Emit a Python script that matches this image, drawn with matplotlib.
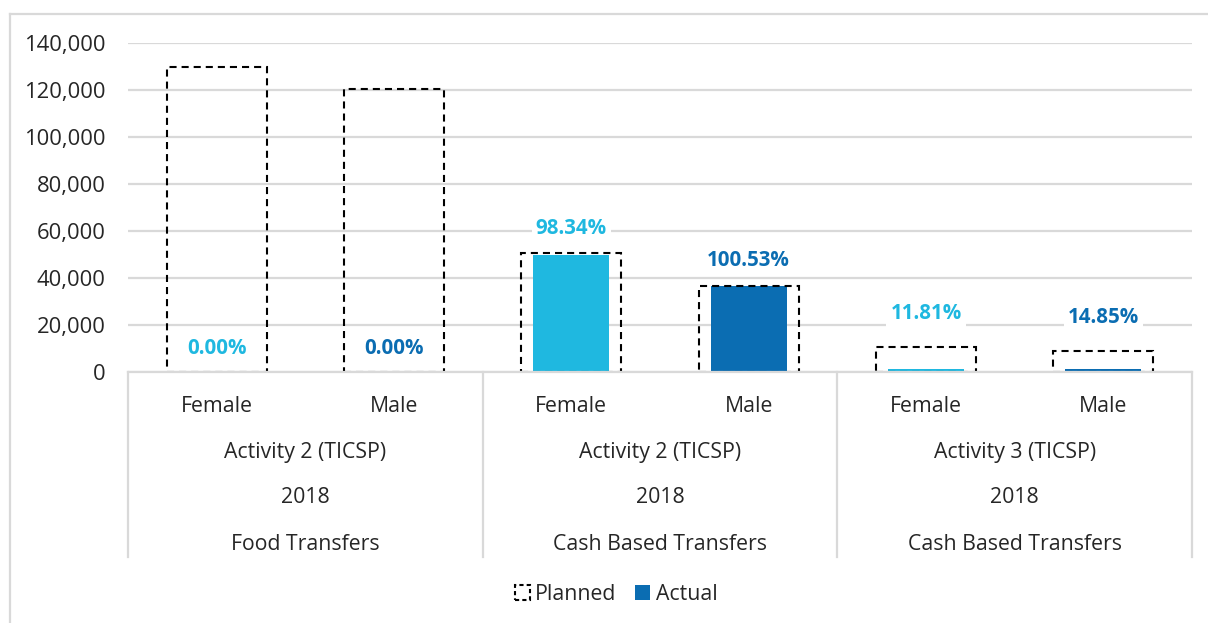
import matplotlib.pyplot as plt
from matplotlib.patches import Patch
from matplotlib.lines import Line2D
from matplotlib.transforms import blended_transform_factory

plt.rcParams['font.family'] = ['Open Sans', 'DejaVu Sans']

sexes = ["Female", "Male", "Female", "Male", "Female", "Male"]
activities = ["Activity 2 (TICSP)", "Activity 2 (TICSP)", "Activity 3 (TICSP)"]
years = ["2018", "2018", "2018"]
transfers = ["Food Transfers", "Cash Based Transfers", "Cash Based Transfers"]
planned = [129800, 120500, 50600, 36600, 10500, 8950]
actual = [0, 0, 49800, 36800, 1240, 1330]
pct = [0.00, 0.00, 98.34, 100.53, 11.81, 14.85]

light = "#1fb8e0"
dark = "#0b6db2"
grid = "#d9d9d9"
txt = "#262626"
colors = [light, dark] * 3


def main():
    fig = plt.figure(figsize=(12.08, 6.23), dpi=100)
    ax = fig.add_axes([128 / 1208, 1 - 372 / 623, (1192 - 128) / 1208, (372 - 43) / 623])

    x = list(range(len(sexes)))
    ax.bar(x, actual, width=0.43, color=colors, zorder=2)
    ax.bar(x, planned, width=0.565, facecolor="none", edgecolor="black",
           linewidth=1.5, linestyle=(0, (3.4, 2.4)), zorder=3)

    for i in x:
        # label sits inside the planned box when there is room, else above it
        if planned[i] - actual[i] > 30000:
            anchor, off = actual[i], 17
        else:
            anchor = max(planned[i], actual[i])
            off = 18 if actual[i] >= planned[i] * 0.9 else 24
        ax.annotate(f"{pct[i]:.2f}%", (i, anchor), xytext=(0, off), textcoords="offset points",
                    ha="center", va="center", fontsize=14.8, fontweight="bold", color=colors[i],
                    bbox=dict(facecolor="white", edgecolor="none", pad=3), zorder=4)

    ax.set_xlim(-0.5, 5.5)
    ax.set_ylim(0, 140000)
    ax.set_yticks(range(0, 140001, 20000))
    ax.set_yticklabels([f"{v:,}" for v in range(0, 140001, 20000)], fontsize=15.8, color=txt)
    ax.tick_params(axis="y", length=0, pad=16)
    ax.set_xticks([])
    ax.grid(axis="y", color=grid, linewidth=1.6, zorder=0)
    ax.set_axisbelow(True)
    for s in ["top", "right", "left"]:
        ax.spines[s].set_visible(False)
    ax.spines["bottom"].set_color(grid)
    ax.spines["bottom"].set_linewidth(1.6)
    ax.spines["bottom"].set_zorder(5)

    # hierarchical category axis
    fs = 15.3
    tr = blended_transform_factory(ax.transData, fig.transFigure)
    for i in x:
        ax.text(i, 1 - 406 / 623, sexes[i], transform=tr, ha="center", va="center",
                fontsize=fs, color=txt)
    for g in range(3):
        cx = 2 * g + 0.5
        ax.text(cx, 1 - 452.5 / 623, activities[g], transform=tr, ha="center", va="center",
                fontsize=fs, color=txt)
        ax.text(cx, 1 - 497.5 / 623, years[g], transform=tr, ha="center", va="center",
                fontsize=fs, color=txt)
        ax.text(cx, 1 - 544.5 / 623, transfers[g], transform=tr, ha="center", va="center",
                fontsize=fs, color=txt)
    for b in [-0.5, 1.5, 3.5, 5.5]:
        ax.add_line(Line2D([b, b], [1 - 372 / 623, 1 - 557 / 623], transform=tr,
                           color=grid, linewidth=1.6, clip_on=False))

    # chart border
    fig.add_artist(Line2D([10 / 1208, 10 / 1208], [1 - 14 / 623, 0], color=grid, linewidth=1.6))
    fig.add_artist(Line2D([10 / 1208, 1], [1 - 14 / 623, 1 - 14 / 623], color=grid, linewidth=1.6))

    handles = [Patch(facecolor="none", edgecolor="black", linestyle=(0, (2, 1.5)), linewidth=1.5),
               Patch(facecolor=dark, edgecolor="none")]
    fig.legend(handles, ["Planned", "Actual"], loc="center", bbox_to_anchor=(0.51, 1 - 594 / 623),
               ncol=2, frameon=False, fontsize=fs, handlelength=0.7, handleheight=0.7,
               handletextpad=0.25, columnspacing=0.9, labelcolor=txt)

    fig.savefig("out.png", dpi=100)


main()
